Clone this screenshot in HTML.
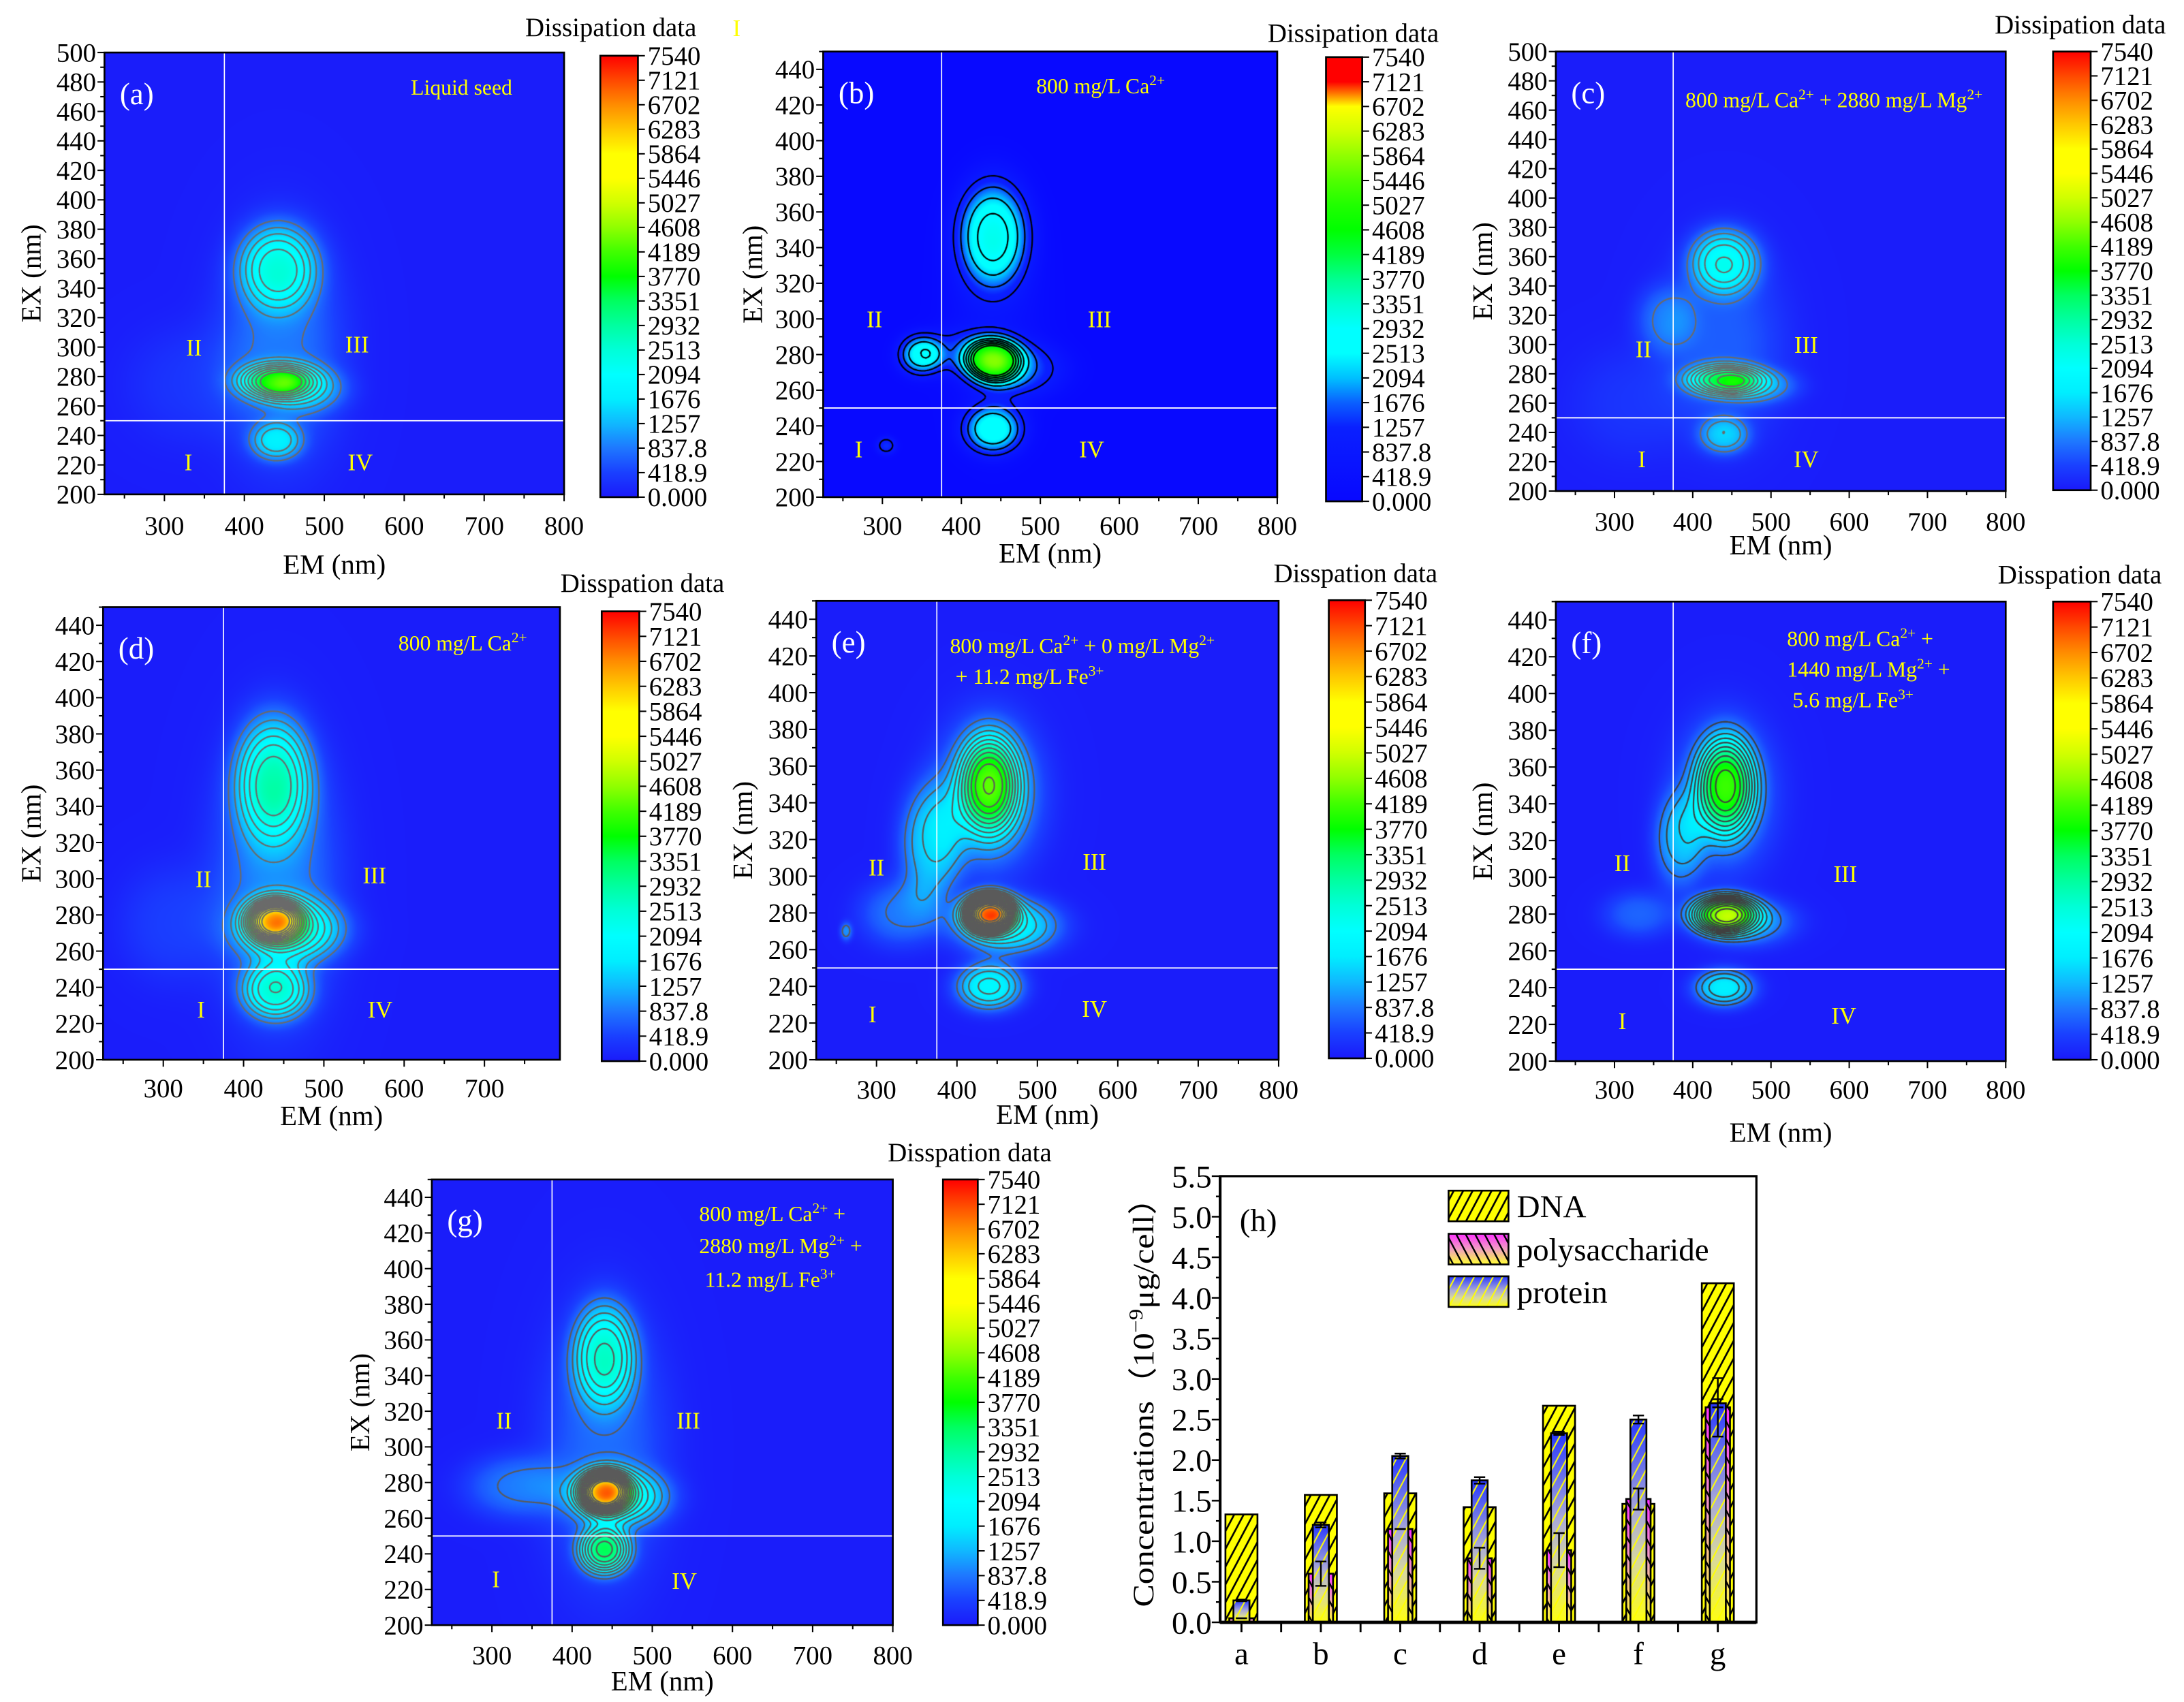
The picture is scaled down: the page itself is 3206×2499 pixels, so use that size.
<!DOCTYPE html>
<html><head><meta charset="utf-8">
<style>
html,body{margin:0;padding:0;background:#fff;}
#root{position:relative;width:3206px;height:2499px;overflow:hidden;background:#fff;}
canvas{position:absolute;}
#svg{position:absolute;left:0;top:0;}
text{font-family:"Liberation Serif",serif;}
</style></head>
<body>
<div id="root">
<svg id="svg" width="3206" height="2499" viewBox="0 0 1568 1222.2" xmlns="http://www.w3.org/2000/svg">
<defs>
<pattern id="hatchDNA" patternUnits="userSpaceOnUse" width="6" height="6" patternTransform="rotate(28)"><rect width="6" height="6" fill="#ffff00"/><line x1="3" y1="0" x2="3" y2="6" stroke="#000" stroke-width="1.3"/></pattern>
<pattern id="hatchPoly" patternUnits="userSpaceOnUse" width="6" height="6" patternTransform="rotate(-28)"><line x1="3" y1="0" x2="3" y2="6" stroke="#000" stroke-width="1.2"/></pattern>
<pattern id="hatchProt" patternUnits="userSpaceOnUse" width="6" height="6" patternTransform="rotate(28)"><line x1="3" y1="0" x2="3" y2="6" stroke="#ffff00" stroke-width="1"/></pattern>
<linearGradient id="gradPoly" x1="0" y1="0" x2="0" y2="1"><stop offset="0" stop-color="#ff30ff"/><stop offset="0.5" stop-color="#f0a0c0"/><stop offset="1" stop-color="#ffff30"/></linearGradient>
<linearGradient id="gradProt" x1="0" y1="0" x2="0" y2="1"><stop offset="0" stop-color="#2838ff"/><stop offset="0.45" stop-color="#a8a8d8"/><stop offset="0.7" stop-color="#d8d8a0"/><stop offset="1" stop-color="#ffff10"/></linearGradient>
</defs>
<g id="layer"></g>
</svg>
</div>
<script>
// ---------- DATA ----------
// heatmap peaks: [EM nm, EX nm, amplitude, sigmaEM, sigmaEX]
const peaksA = [[442,355,1900,38,22],[440,277,2800,35,9],[475,272,1000,40,12],[440,236,1300,25,10],[445,300,800,60,60],[330,275,250,60,30]];
const peaksB = [[440,348,2700,36,24],[440,277,4000,28,10],[475,272,1300,45,12],[440,238,2500,30,11],[348,280,2300,22,9],[395,282,900,40,10],[305,229,1300,10,4],[440,300,500,50,50]];
const peaksC = [[440,357,1900,34,17],[440,276,2800,36,8],[485,272,900,38,9],[440,238,1200,25,10],[365,318,700,30,18],[440,300,600,60,50],[320,260,250,60,30]];
const peaksD = [[437,355,2200,36,26],[438,277,4300,26,9],[460,272,1800,50,13],[440,238,2000,32,12],[440,300,900,60,60],[310,275,350,50,25]];
const peaksE = [[440,350,3000,28,20],[440,345,1300,50,32],[440,280,5600,24,8],[462,273,1800,50,12],[440,240,1900,32,10],[368,318,1400,30,25],[330,280,800,40,14],[262,270,900,6,4]];
const peaksF = [[442,350,3100,28,20],[440,345,1000,50,32],[440,280,3800,32,8],[465,276,1200,48,10],[440,240,1700,30,8],[382,320,1100,25,20],[330,280,650,35,10]];
const peaksG = [[440,352,2100,30,22],[440,275,4700,24,9],[460,272,1700,46,12],[440,242,2900,24,10],[330,278,800,50,14],[440,300,700,60,60]];
// region label positions [EM, EX]
const regA = [[330,222],[337,300],[541,302],[545,222]];
const regB = [[270,227],[290,300],[575,300],[565,227]];
const regC = [[335,222],[337,297],[545,300],[545,222]];
const regD = [[347,228],[350,300],[563,302],[570,228]];
const regE = [[295,225],[300,305],[571,308],[571,228]];
const regF = [[310,222],[310,308],[595,302],[593,225]];
const regG = [[305,226],[315,315],[545,315],[540,225]];
const regNames = ['I','II','III','IV'];
// colour-bar tick labels
const cbLabels = ['0.000','418.9','837.8','1257','1676','2094','2513','2932','3351','3770','4189','4608','5027','5446','5864','6283','6702','7121','7540'];
const cbMax = 7540;
// colour maps (value -> colour)
const mapStdVals = [0,420,840,1257,1676,2094,2513,2932,3351,3770,4189,4608,5027,5446,5864,6283,6702,7121,7540];
const mapStdCols = ['#1a1afa','#1a40ff','#1e78ff','#10b8ff','#00eeff','#00ffff','#00ffd8','#00ffa0','#00ff60','#00ff00','#40ff00','#90ff00','#d0ff00','#ffff00','#ffff00','#ffc800','#ff8c00','#ff4800','#ff0000'];
const mapBVals = [0,1257,1676,2094,2513,2932,3351,3770,4189,4608,5027,5446,5864,6283,6702,7121,7540];
const mapBCols = ['#0808ff','#0a20ff','#0a60ff','#00c0ff','#00ffff','#00ffff','#00ffd0','#00ff90','#00ff40','#00ff00','#20ff00','#50ff00','#90ff00','#d0ff00','#ffff00','#ff0000','#ff0000'];
// bar chart (h)
const barCats = ['a','b','c','d','e','f','g'];
const dnaVals = [1.33,1.57,1.59,1.42,2.67,1.46,4.18];
const polyVals = [0.05,0.60,1.15,0.79,0.89,1.52,2.65];
const polyErr = [0.0,0.15,0.0,0.13,0.21,0.13,0.36];
const protVals = [0.27,1.20,2.05,1.75,2.33,2.50,2.70];
const protErr = [0.01,0.03,0.03,0.04,0.02,0.05,0.05];
const barTicks = [0,0.5,1,1.5,2,2.5,3,3.5,4,4.5,5,5.5];

// ---------- helpers ----------
const S = 3206/1568;
const NS = 'http://www.w3.org/2000/svg';
const layer = document.getElementById('layer');
const root = document.getElementById('root');
function mk(tag, attrs, parent){
  const e = document.createElementNS(NS, tag);
  for (const k in attrs) e.setAttribute(k, attrs[k]);
  (parent||layer).appendChild(e);
  return e;
}
function hex(c){return [parseInt(c.slice(1,3),16),parseInt(c.slice(3,5),16),parseInt(c.slice(5,7),16)];}
function makeLUT(vals, cols){
  const lut = []; const rgb = cols.map(hex);
  for (let i=0;i<1024;i++){
    const v = i/1023*cbMax; let k=0;
    while (k<vals.length-2 && v>vals[k+1]) k++;
    const t = Math.max(0,Math.min(1,(v-vals[k])/(vals[k+1]-vals[k])));
    lut.push([0,1,2].map(j=>Math.round(rgb[k][j]+(rgb[k+1][j]-rgb[k][j])*t)));
  }
  return lut;
}
const lutStd = makeLUT(mapStdVals, mapStdCols);
const lutB = makeLUT(mapBVals, mapBCols);

const panels = [
 {id:'a',peaks:peaksA,reg:regA,lut:lutStd,vals:mapStdVals,cols:mapStdCols,x0:75,x1:405,y0:37.7,y1:355,exMax:500,emMax:800,tickY:384,emY:412,exX:22,cb:[431,458,40,357],title:'Dissipation data',titleX:500,titleY:26,contour:'#6a6a6a',levels:[800,1150,1500,1850,2200,2550,2900,3250,3600]},
 {id:'b',peaks:peaksB,reg:regB,lut:lutB,vals:mapBVals,cols:mapBCols,x0:591,x1:917,y0:37,y1:357,exMax:450,emMax:800,tickY:384,emY:404,exX:540,cb:[952,978,41,360],title:'Dissipation data',titleX:1033,titleY:30,contour:'#000000',levels:[1000,1600,2200,2800,3200,3600,4000,4400]},
 {id:'c',peaks:peaksC,reg:regC,lut:lutStd,vals:mapStdVals,cols:mapStdCols,x0:1117,x1:1440,y0:37,y1:352.6,exMax:500,emMax:800,tickY:381,emY:398,exX:1064,cb:[1474,1501,37,352],title:'Dissipation data',titleX:1555,titleY:24,contour:'#6a6a6a',levels:[800,1150,1500,1850,2200,2550,2900,3250,3600]},
 {id:'d',peaks:peaksD,reg:regD,lut:lutStd,vals:mapStdVals,cols:mapStdCols,x0:74,x1:402,y0:436,y1:761,exMax:450,emMax:794,tickY:788,emY:808,exX:22,cb:[432,459,439,762],title:'Disspation data',titleX:520,titleY:425,contour:'#6a6a6a',levels:[800,1150,1500,1850,2200,2550,2900,3250,3600,3950,4300,4650,5000,5350,5700,6050]},
 {id:'e',peaks:peaksE,reg:regE,lut:lutStd,vals:mapStdVals,cols:mapStdCols,x0:586,x1:918,y0:431.5,y1:761,exMax:450,emMax:800,tickY:789,emY:807,exX:533,cb:[954,980,431,760],title:'Disspation data',titleX:1032,titleY:418,contour:'#5a5a5a',levels:[800,1150,1500,1850,2200,2550,2900,3250,3600,3950,4300,4650,5000,5350,5700,6050,6400,6750]},
 {id:'f',peaks:peaksF,reg:regF,lut:lutStd,vals:mapStdVals,cols:mapStdCols,x0:1117,x1:1440,y0:432,y1:762,exMax:450,emMax:800,tickY:789,emY:820,exX:1064,cb:[1474,1501,432,761],title:'Disspation data',titleX:1552,titleY:419,contour:'#404040',levels:[800,1150,1500,1850,2200,2550,2900,3250,3600,3950,4300,4650]},
 {id:'g',peaks:peaksG,reg:regG,lut:lutStd,vals:mapStdVals,cols:mapStdCols,x0:310,x1:641,y0:847,y1:1167,exMax:450,emMax:800,tickY:1195,emY:1214,exX:258,cb:[677,702,847,1167],title:'Disspation data',titleX:755,titleY:834,contour:'#5a5a5a',levels:[800,1150,1500,1850,2200,2550,2900,3250,3600,3950,4300,4650,5000,5350,5700,6050]}
];
const EMMIN = 225, EXMIN = 200;

function field(peaks, em, ex){
  let v = 40;
  for (const p of peaks){
    const a=(em-p[0])/p[3], b=(ex-p[1])/p[4];
    const r2 = a*a+b*b;
    v += p[2]*Math.exp(-0.5*Math.pow(r2,1.35));
  }
  return v;
}

function drawPanel(p){
  const xS = em => p.x0 + (em-EMMIN)/(p.emMax-EMMIN)*(p.x1-p.x0);
  const yS = ex => p.y1 - (ex-EXMIN)/(p.exMax-EXMIN)*(p.y1-p.y0);
  const L = p.x0*S, T = p.y0*S;
  const W = Math.round((p.x1-p.x0)*S), H = Math.round((p.y1-p.y0)*S);
  const cv = document.createElement('canvas');
  cv.width = W; cv.height = H;
  cv.style.left = L+'px'; cv.style.top = T+'px';
  
  
  root.insertBefore(cv, document.getElementById('svg'));
  const ctx = cv.getContext('2d');
  const img = ctx.createImageData(W,H);
  const emOf = px => EMMIN + (px/W)*(p.emMax-EMMIN);
  const exOf = py => p.exMax - (py/H)*(p.exMax-EXMIN);
  for (let y=0;y<H;y++){
    const ex = exOf(y);
    for (let x=0;x<W;x++){
      const v = field(p.peaks, emOf(x), ex);
      const c = p.lut[Math.max(0,Math.min(1023,Math.round(v/cbMax*1023)))];
      const i=(y*W+x)*4; img.data[i]=c[0];img.data[i+1]=c[1];img.data[i+2]=c[2];img.data[i+3]=255;
    }
  }
  ctx.putImageData(img,0,0);
  const st = 3, nx = Math.floor(W/st)+1, ny = Math.floor(H/st)+1;
  const G = [];
  for (let j=0;j<ny;j++){ const r=[]; for (let i=0;i<nx;i++) r.push(field(p.peaks, emOf(i*st), exOf(j*st))); G.push(r); }
  ctx.strokeStyle = p.contour; ctx.lineWidth = 2.2; ctx.lineJoin='round';
  ctx.beginPath();
  for (const lv of p.levels){
    for (let j=0;j<ny-1;j++) for (let i=0;i<nx-1;i++){
      const a=G[j][i], b=G[j][i+1], c=G[j+1][i+1], d=G[j+1][i];
      const pts=[];
      const x0=i*st, y0=j*st;
      if ((a-lv)*(b-lv)<0) pts.push([x0+st*(lv-a)/(b-a), y0]);
      if ((b-lv)*(c-lv)<0) pts.push([x0+st, y0+st*(lv-b)/(c-b)]);
      if ((d-lv)*(c-lv)<0) pts.push([x0+st*(lv-d)/(c-d), y0+st]);
      if ((a-lv)*(d-lv)<0) pts.push([x0, y0+st*(lv-a)/(d-a)]);
      if (pts.length>=2){ ctx.moveTo(pts[0][0],pts[0][1]); ctx.lineTo(pts[1][0],pts[1][1]); }
      if (pts.length===4){ ctx.moveTo(pts[2][0],pts[2][1]); ctx.lineTo(pts[3][0],pts[3][1]); }
    }
  }
  ctx.stroke();

  const g = mk('g',{});
  
  
  const vl = mk('line',{x1:xS(375),x2:xS(375),y1:p.y0,y2:p.y1,stroke:'#fff','stroke-width':0.8},g);
  
  
  const hl = mk('line',{x1:p.x0,x2:p.x1,y1:yS(250),y2:yS(250),stroke:'#fff','stroke-width':0.9},g);
  
  
  const fr = mk('rect',{x:p.x0,y:p.y0,width:p.x1-p.x0,height:p.y1-p.y0,fill:'none',stroke:'#000','stroke-width':1.3},g);
  
  
  for (let ex=EXMIN; ex<=p.exMax; ex+=10){
    const major = ex%20===0;
    mk('line',{x1:p.x0,x2:p.x0-(major?5:3),y1:yS(ex),y2:yS(ex),stroke:'#000','stroke-width':1},g);
    if (major){
      const t = mk('text',{x:p.x0-6,y:yS(ex)+6.5,'font-size':19,'text-anchor':'end'},g);
      t.textContent = ex;
      
      
    }
  }
  for (let em=250; em<=p.emMax; em+=50){
    const major = em%100===0;
    mk('line',{x1:xS(em),x2:xS(em),y1:p.y1,y2:p.y1+(major?5:3),stroke:'#000','stroke-width':1},g);
    if (major){
      const t = mk('text',{x:xS(em),y:p.tickY,'font-size':19,'text-anchor':'middle'},g);
      t.textContent = em;
      
      
    }
  }
  const xt = mk('text',{x:(p.x0+p.x1)/2,y:p.emY,'font-size':20,'text-anchor':'middle'},g);
  xt.textContent = 'EM (nm)';
  
  
  const yt = mk('text',{x:p.exX,y:(p.y0+p.y1)/2,'font-size':20,'text-anchor':'middle',transform:`rotate(-90 ${p.exX} ${(p.y0+p.y1)/2})`,dy:7},g);
  yt.textContent = 'EX (nm)';
  
  
  const pl = mk('text',{x:p.x0+11,y:p.y0+37,'font-size':22,fill:'#fff'},g);
  pl.textContent = '('+p.id+')';
  
  
  p.reg.forEach((r,k)=>{
    const t = mk('text',{x:xS(r[0]),y:yS(r[1])+6,'font-size':17,fill:'#ffff00','text-anchor':'middle'},g);
    t.textContent = regNames[k];
    
    
  });
  const [cx0,cx1,cy0,cy1] = p.cb;
  const gid = 'cbg'+p.id;
  const lg = mk('linearGradient',{id:gid,x1:0,y1:1,x2:0,y2:0},document.querySelector('defs'));
  p.vals.forEach((v,k)=>{ mk('stop',{offset:v/cbMax,'stop-color':p.cols[k]},lg); });
  const cbr = mk('rect',{x:cx0,y:cy0,width:cx1-cx0,height:cy1-cy0,fill:`url(#${gid})`,stroke:'#000','stroke-width':1.3},g);
  
  
  cbLabels.forEach((lab,k)=>{
    const y = cy1 - k/(cbLabels.length-1)*(cy1-cy0);
    mk('line',{x1:cx1,x2:cx1+5,y1:y,y2:y,stroke:'#000','stroke-width':1},g);
    const t = mk('text',{x:cx1+7,y:y+6.5,'font-size':19},g);
    t.textContent = lab;
    
    
  });
  const ct = mk('text',{x:p.titleX,y:p.titleY,'font-size':19,'text-anchor':'end'},g);
  ct.textContent = p.title;
  
  
}
panels.forEach(drawPanel);

function note(x,y,html,name){
  const t = mk('text',{x:x,y:y,'font-size':15.5,fill:'#ffff00'});
  t.innerHTML = html;
  
  
}
const SUP = s => `<tspan baseline-shift="super" font-size="10.5">${s}</tspan>`;
note(295,68,'Liquid seed','condition-label-a');
const yI = mk('text',{x:526,y:26,'font-size':17,fill:'#ffff00'});
yI.textContent = 'I';


note(744,67,'800 mg/L Ca'+SUP('2+'),'condition-label-b');
note(1210,77,'800 mg/L Ca'+SUP('2+')+' + 2880 mg/L Mg'+SUP('2+'),'condition-label-c');
note(286,467,'800 mg/L Ca'+SUP('2+'),'condition-label-d');
note(682,469,'800 mg/L Ca'+SUP('2+')+' + 0 mg/L Mg'+SUP('2+'),'condition-label-e1');
note(686,491,' + 11.2 mg/L Fe'+SUP('3+'),'condition-label-e2');
note(1283,464,'800 mg/L Ca'+SUP('2+')+' +','condition-label-f1');
note(1283,486,'1440 mg/L Mg'+SUP('2+')+' +','condition-label-f2');
note(1287,508,'5.6 mg/L Fe'+SUP('3+'),'condition-label-f3');
note(502,877,'800 mg/L Ca'+SUP('2+')+' +','condition-label-g1');
note(502,900,'2880 mg/L Mg'+SUP('2+')+' +','condition-label-g2');
note(506,924,'11.2 mg/L Fe'+SUP('3+'),'condition-label-g3');

// ---------- bar chart (h) ----------
const H0 = {x0:876,x1:1261,y0:844.6,y1:1165,vmax:5.5};
const byS = v => H0.y1 - v/H0.vmax*(H0.y1-H0.y0);
const bxS = i => 891.3 + i*57;
const gh = mk('g',{});


function bar(i, v, w, fill, pat, name){
  const x = bxS(i)-w/2, y = byS(v), h = byS(0)-byS(v);
  const r1 = mk('rect',{x:x,y:y,width:w,height:h,fill:fill},gh);
  
  
  const r2 = mk('rect',{x:x,y:y,width:w,height:h,fill:pat,stroke:'#000','stroke-width':1.3},gh);
  
  
}
function err(i, v, e, name){
  if (e<=0){ const c=mk('line',{x1:bxS(i)-4,x2:bxS(i)+4,y1:byS(v),y2:byS(v),stroke:'#000','stroke-width':1.3},gh);
      return; }
  const eg = mk('g',{stroke:'#000','stroke-width':1.2},gh);
  
  
  mk('line',{x1:bxS(i),x2:bxS(i),y1:byS(v-e),y2:byS(v+e)},eg);
  mk('line',{x1:bxS(i)-4,x2:bxS(i)+4,y1:byS(v-e),y2:byS(v-e)},eg);
  mk('line',{x1:bxS(i)-4,x2:bxS(i)+4,y1:byS(v+e),y2:byS(v+e)},eg);
}
barCats.forEach((c,i)=>{
  bar(i, dnaVals[i], 23, '#ffff00', 'url(#hatchDNA)', 'bar-dna-'+c);
  bar(i, polyVals[i], 17.5, 'url(#gradPoly)', 'url(#hatchPoly)', 'bar-polysaccharide-'+c);
  bar(i, protVals[i], 11.5, 'url(#gradProt)', 'url(#hatchProt)', 'bar-protein-'+c);
  err(i, polyVals[i], polyErr[i], 'error-polysaccharide-'+c);
  err(i, protVals[i], protErr[i], 'error-protein-'+c);
});
const hf = mk('rect',{x:H0.x0,y:H0.y0,width:H0.x1-H0.x0,height:H0.y1-H0.y0,fill:'none',stroke:'#000','stroke-width':1.6},gh);


mk('line',{x1:H0.x0,x2:H0.x1,y1:H0.y1,y2:H0.y1,stroke:'#000','stroke-width':2.4},gh);
mk('line',{x1:H0.x0,x2:H0.x0,y1:H0.y0,y2:H0.y1,stroke:'#000','stroke-width':2},gh);
for (let v=0; v<=H0.vmax+0.001; v+=0.25){
  const major = Math.abs(v*2-Math.round(v*2))<0.01;
  mk('line',{x1:H0.x0,x2:H0.x0-(major?6:3),y1:byS(v),y2:byS(v),stroke:'#000','stroke-width':1.2},gh);
}
barTicks.forEach(v=>{
  const t = mk('text',{x:H0.x0-6,y:byS(v)+8,'font-size':23,'text-anchor':'end'},gh);
  t.textContent = v.toFixed(1);
  
  
});
for (let k=0;k<=13;k++){
  const x = bxS(0) + k*28.5;
  if (x>H0.x1) break;
  mk('line',{x1:x,x2:x,y1:H0.y1,y2:H0.y1+7,stroke:'#000','stroke-width':1.4},gh);
}
barCats.forEach((c,i)=>{
  const t = mk('text',{x:bxS(i),y:H0.y1+30,'font-size':23,'text-anchor':'middle'},gh);
  t.textContent = c;
  
  
});
const hyt = mk('text',{x:0,y:0,'font-size':21,'text-anchor':'middle',transform:'translate(828 1001) rotate(-90)',textLength:306,lengthAdjust:'spacingAndGlyphs'},gh);
hyt.innerHTML = 'Concentrations（10<tspan baseline-shift="super" font-size="14">−9</tspan>μg/cell）';


const hl2 = mk('text',{x:890,y:884,'font-size':23},gh);
hl2.textContent = '(h)';


const legItems = [['DNA','#ffff00','url(#hatchDNA)',855],['polysaccharide','url(#gradPoly)','url(#hatchPoly)',886],['protein','url(#gradProt)','url(#hatchProt)',916.5]];
legItems.forEach(it=>{
  const lgG = mk('g',{},gh);
  
  
  mk('rect',{x:1040,y:it[3],width:43,height:22,fill:it[1]},lgG);
  mk('rect',{x:1040,y:it[3],width:43,height:22,fill:it[2],stroke:'#000','stroke-width':1.3},lgG);
  const t = mk('text',{x:1089,y:it[3]+19,'font-size':23},lgG);
  t.textContent = it[0];
});
</script>
</body></html>
